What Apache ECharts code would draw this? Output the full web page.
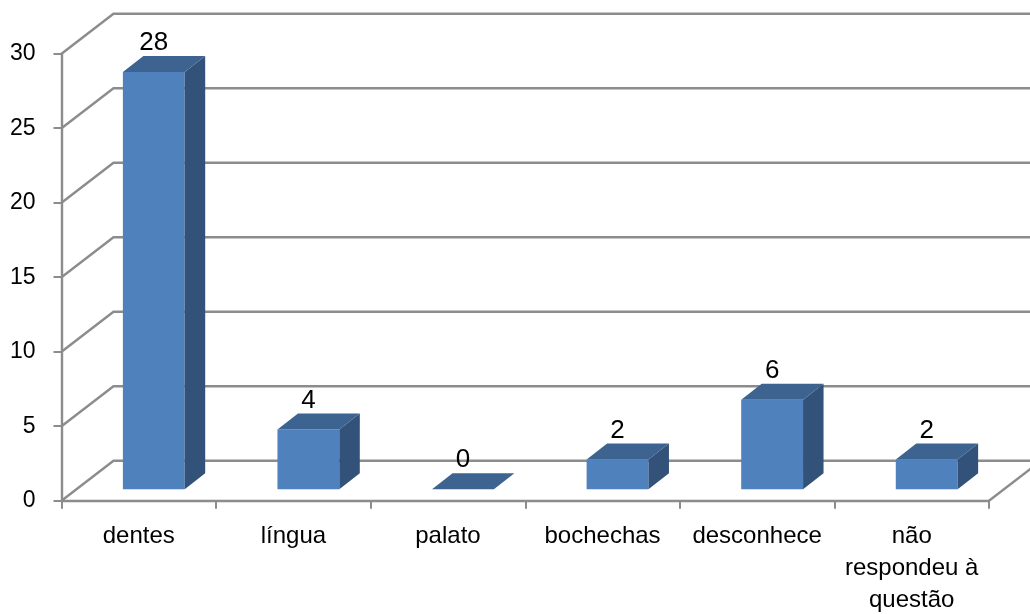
<!DOCTYPE html>
<html><head><meta charset="utf-8">
<style>html,body{margin:0;padding:0;background:#fff}#c{width:1030px;height:614px}</style>
<script src="https://cdn.jsdelivr.net/npm/echarts@6/dist/echarts.min.js"></script>
</head><body><div id="c"></div>
<script>
const categories = ['dentes','língua','palato','bochechas','desconhece','não\nrespondeu à\nquestão'];
const values = [28,4,0,2,6,2];
const yTicks = [0,5,10,15,20,25,30];

// pseudo-3D projection, in pixels
const WALL_DX = 52, WALL_DY = 40;
const BAR_BASE_DX = 15, BAR_BASE_DY = 11.5;
const BAR_DX = 20.5, BAR_DY = 16;
const BAR_RATIO = 0.4;
const GRID_COLOR = '#8c8c8c';
const FONT = '"Liberation Sans", Arial, sans-serif';

const chart = echarts.init(document.getElementById('c'), null, {renderer:'canvas'});

function renderWall(params, api){
  const v = api.value(1);
  const cs = params.coordSys;
  const y = api.coord([0, v])[1];
  const x0 = cs.x, x1 = cs.x + cs.width;
  const pts = [[x0,y],[x0+WALL_DX,y-WALL_DY],[x1+WALL_DX,y-WALL_DY]];
  const children = [{type:'polyline',shape:{points:pts},style:{fill:null,stroke:GRID_COLOR,lineWidth:2.4}}];
  if (v === 0) children.push({type:'line',shape:{x1:x1,y1:y,x2:x1+WALL_DX,y2:y-WALL_DY},style:{stroke:GRID_COLOR,lineWidth:2.4}});
  return {type:'group',children};
}

function renderBar(params, api){
  const top = api.coord([api.value(0), api.value(1)]);
  const base = api.coord([api.value(0), 0]);
  const w = api.size([1,0])[0] * BAR_RATIO;
  const l = top[0] - w/2 + BAR_BASE_DX, r = l + w;
  const t = top[1] - BAR_BASE_DY, b = base[1] - BAR_BASE_DY;
  const front = {type:'rect',shape:{x:l,y:t,width:w,height:b-t},
    style:{fill:'#4f81bd'}};
  const side = {type:'polygon',shape:{points:[[r,t],[r+BAR_DX,t-BAR_DY],[r+BAR_DX,b-BAR_DY],[r,b]]},
    style:{fill:'#325279'}};
  const cap = {type:'polygon',shape:{points:[[l,t],[l+BAR_DX,t-BAR_DY],[r+BAR_DX,t-BAR_DY],[r,t]]},
    style:{fill:'#3d6391'}};
  const label = {type:'text',style:{text:String(api.value(1)),x:(l+r)/2,y:t-BAR_DY-13,
    align:'center',verticalAlign:'middle',fill:'#000',font:'26px '+FONT}};
  return {type:'group',children:[front,side,cap,label]};
}

chart.setOption({
  animation:false,
  backgroundColor:'#fff',
  grid:{left:61.5,top:53.7,width:927.5,height:447,containLabel:false,outerBoundsMode:'none'},
  xAxis:{type:'category',data:categories,boundaryGap:true,
    axisLine:{show:true,lineStyle:{color:GRID_COLOR,width:2.4}},
    axisTick:{show:true,alignWithLabel:false,length:8,lineStyle:{color:GRID_COLOR,width:2}},
    axisLabel:{interval:0,color:'#000',fontFamily:FONT,fontSize:24,lineHeight:32,margin:20}},
  yAxis:{type:'value',min:0,max:30,interval:5,
    axisLine:{show:true,lineStyle:{color:GRID_COLOR,width:2.4}},
    axisTick:{show:true,length:8,lineStyle:{color:GRID_COLOR,width:2}},
    splitLine:{show:false},
    axisLabel:{color:'#000',fontFamily:FONT,fontSize:23,margin:26,formatter:v=>yTicks.includes(v)?String(v):''}},
  series:[
    {type:'custom',z:1,clip:false,silent:true,renderItem:renderWall,encode:{x:0,y:1},
     data:yTicks.map(v=>[0,v])},
    {type:'custom',z:3,clip:false,silent:true,renderItem:renderBar,encode:{x:0,y:1},
     data:values.map((v,i)=>[i,v])}
  ]
});
</script></body></html>
